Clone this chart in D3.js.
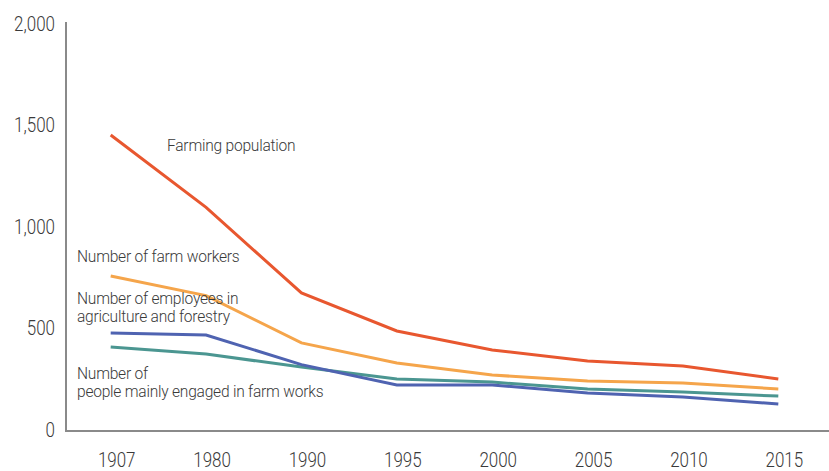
<!DOCTYPE html>
<html>
<head>
<meta charset="utf-8">
<script src="https://cdn.jsdelivr.net/npm/d3@7"></script>
<style>
  body { margin: 0; background: #fff; }
  text { font-family: Roboto, sans-serif; font-weight: 300; fill: #3a3a3a; }
</style>
</head>
<body>
<div id="root"></div>
<script>
// Size of the chart
const width = 829;
const height = 471;

// Data (10,000 persons)
const years = ["1907", "1980", "1990", "1995", "2000", "2005", "2010", "2015"];
const farmingPopulation = [1453, 1097, 675, 488, 394, 340, 315, 251];
const farmWorkers = [759, 662, 429, 330, 271, 241, 231, 202];
const employeesAgriForestry = [478, 468, 322, 222, 222, 182, 163, 128];
const mainlyEngaged = [409, 374, 310, 251, 236, 202, 187, 167];
const yTicks = [0, 500, 1000, 1500, 2000];

const series = [
  { name: "farming", values: farmingPopulation, color: "#e8572f" },
  { name: "workers", values: farmWorkers, color: "#f5a54b" },
  { name: "mainly", values: mainlyEngaged, color: "#4b9691" },
  { name: "employees", values: employeesAgriForestry, color: "#4f63b1" }
];

// narrow look of the tick font
const squeeze = 0.87;

const svg = d3.select("#root")
  .append("svg")
  .attr("width", width)
  .attr("height", height);

// Scales
const xScale = d3.scaleBand()
  .domain(years)
  .range([66, 829]);

const yScale = d3.scaleLinear()
  .domain([0, 2000])
  .range([430, 24]);

const xPos = d => xScale(d) + xScale.bandwidth() / 2 - 3;

// Axes
const yAxis = d3.axisLeft(yScale)
  .tickValues(yTicks)
  .tickSize(0)
  .tickPadding(11)
  .tickFormat(d3.format(","));

svg.append("g")
  .attr("class", "y-axis")
  .attr("transform", "translate(66,0)")
  .call(yAxis)
  .call(g => g.select(".domain").remove())
  .selectAll("text")
  .attr("x", -11 / squeeze)
  .attr("transform", "scale(" + squeeze + ",1)")
  .attr("font-size", 19.5)
  .style("fill", "#3a3a3a");

const xAxis = d3.axisBottom(xScale)
  .tickSize(0)
  .tickPadding(22);

svg.append("g")
  .attr("class", "x-axis")
  .attr("transform", "translate(0,431)")
  .call(xAxis)
  .call(g => g.select(".domain").remove())
  .selectAll("text")
  .attr("dx", 3 / squeeze)
  .attr("transform", "scale(" + squeeze + ",1)")
  .attr("font-size", 19.5)
  .style("fill", "#3a3a3a");

// Axis lines
svg.append("line")
  .attr("x1", 66).attr("x2", 66)
  .attr("y1", 22).attr("y2", 431)
  .attr("stroke", "#8a8a8a")
  .attr("stroke-width", 2);

svg.append("line")
  .attr("x1", 65).attr("x2", 829)
  .attr("y1", 431).attr("y2", 431)
  .attr("stroke", "#8a8a8a")
  .attr("stroke-width", 2);

// Lines
const line = d3.line()
  .x((d, i) => xPos(years[i]))
  .y(d => yScale(d));

series.forEach(s => {
  svg.append("path")
    .datum(s.values)
    .attr("class", s.name + "-line")
    .attr("fill", "none")
    .attr("stroke", s.color)
    .attr("stroke-width", 3)
    .attr("d", line);
});

// Labels
const labels = [
  { lines: ["Farming population"], x: 167, y: 151 },
  { lines: ["Number of farm workers"], x: 77, y: 262 },
  { lines: ["Number of employees in", "agriculture and forestry"], x: 77, y: 304 },
  { lines: ["Number of", "people mainly engaged in farm works"], x: 77, y: 379 }
];

labels.forEach(l => {
  const t = svg.append("text")
    .attr("x", l.x / 0.9)
    .attr("y", l.y)
    .attr("transform", "scale(0.9,1)")
    .attr("font-size", 17.3)
    .attr("letter-spacing", -0.25);
  l.lines.forEach((s, i) => {
    t.append("tspan")
      .attr("x", l.x / 0.9)
      .attr("dy", i === 0 ? 0 : 18.5)
      .text(s);
  });
});
</script>
</body>
</html>
